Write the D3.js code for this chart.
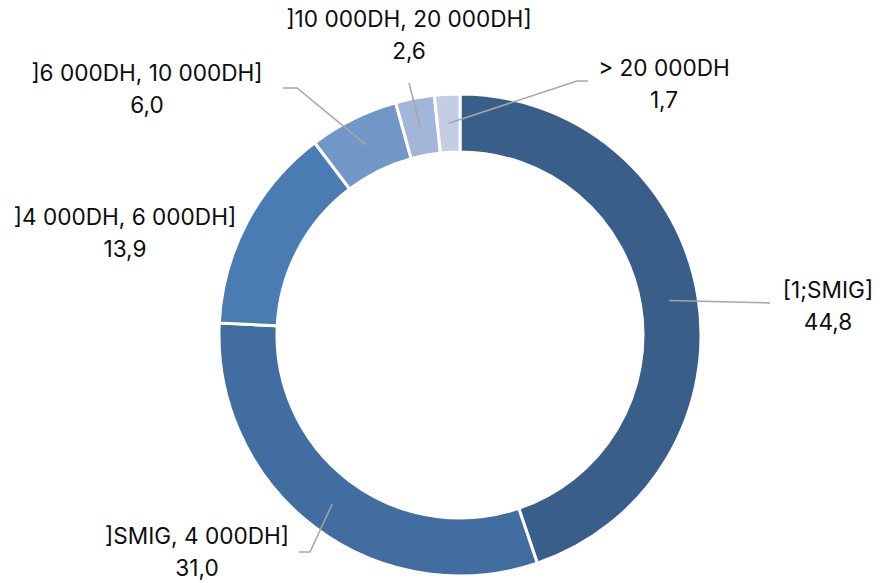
<html>
<style>
  body { margin: 0; background: #ffffff; font-family: Inter, "Open Sans", sans-serif; }
  .lbl { font-size: 22.6px; fill: #0d0d0d; }
</style>
<script src="https://d3js.org/d3.v7.min.js"></script>
<body>
<svg id="chart" width="880" height="583"></svg>
</body>
<script>
  // data
  const categories = ["[1;SMIG]", "]SMIG, 4 000DH]", "]4 000DH, 6 000DH]",
                      "]6 000DH, 10 000DH]", "]10 000DH, 20 000DH]", "> 20 000DH"];
  const values = [44.8, 31.0, 13.9, 6.0, 2.6, 1.7];
  const colors = ["#3a5e8a", "#426da0", "#4a7cb4", "#7396c8", "#a3b6d9", "#c3cee4"];

  // label placement (centre of the two text lines) and leader elbow, as in Excel
  const labelAt = [[828, 290], [197, 536], [125, 217], [147, 73], [409, 19], [664, 68]];
  const elbows = [[770, 303], [310, 552], null, [297, 88], null, [577, 81]];
  const ends   = [null, [299, 552], null, [283, 88], [409, 83], [588, 81]];

  const svg = d3.select("#chart")
  const cx = 460, cy = 335, rOut = 241, rIn = 183

  const pie = d3.pie().sort(null).value(d => d)
  const arcs = pie(values)
  const arc = d3.arc().innerRadius(rIn).outerRadius(rOut)
  const mid = d3.arc().innerRadius(212).outerRadius(212)

  const g = svg.append("g").attr("transform", `translate(${cx},${cy})`)
  g.selectAll("path").data(arcs).enter().append("path")
    .attr("d", arc)
    .attr("fill", (d, i) => colors[i])
    .attr("stroke", "#ffffff")
    .attr("stroke-width", 3)

  // leader lines
  arcs.forEach((d, i) => {
    if (!elbows[i] && !ends[i]) return;
    const c = mid.centroid(d)
    const pts = [[cx + c[0], cy + c[1]]]
    if (elbows[i]) pts.push(elbows[i])
    if (ends[i]) pts.push(ends[i])
    svg.append("path")
      .attr("d", d3.line()(pts))
      .attr("fill", "none")
      .attr("stroke", "#a6a6a6")
      .attr("stroke-width", 1.5)
  })

  // labels
  categories.forEach((name, i) => {
    const [x, y] = labelAt[i]
    const t = svg.append("text").attr("class", "lbl").attr("text-anchor", "middle")
    t.append("tspan").attr("x", x).attr("y", y + 8).text(name)
    t.append("tspan").attr("x", x).attr("y", y + 40).text(d3.format(".1f")(values[i]).replace(".", ","))
  })
</script>
</html>
